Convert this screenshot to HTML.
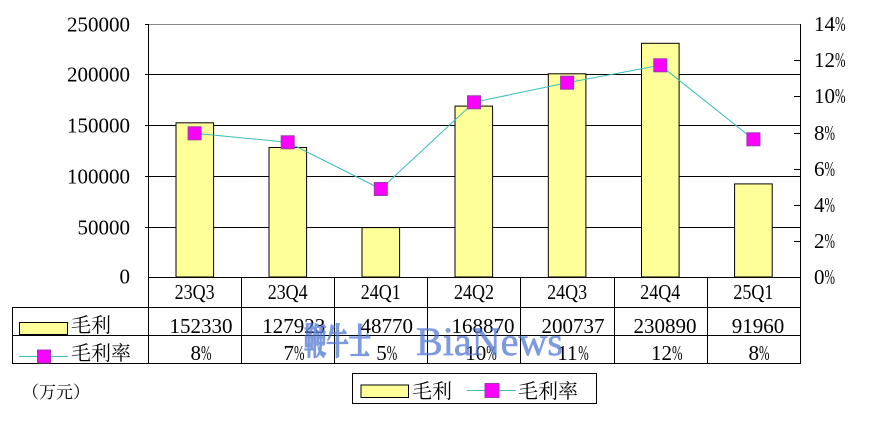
<!DOCTYPE html>
<html><head><meta charset="utf-8"><style>
html,body{margin:0;padding:0;background:#fff;}
svg{display:block;}
.n{font-family:"Liberation Serif",serif;font-size:21px;fill:#000;}
.c{font-family:"Liberation Serif","Noto Serif CJK SC",serif;font-size:20px;fill:#000;}
</style></head><body>
<svg width="870" height="428" viewBox="0 0 870 428" xmlns="http://www.w3.org/2000/svg">
<rect width="870" height="428" fill="#fff"/>
<!-- gridlines -->
<line x1="148" y1="24.5" x2="800" y2="24.5" stroke="#888" stroke-width="1"/>
<g stroke="#000" stroke-width="1">
<line x1="145" y1="74.5" x2="800" y2="74.5"/>
<line x1="145" y1="125.5" x2="800" y2="125.5"/>
<line x1="145" y1="176.5" x2="800" y2="176.5"/>
<line x1="145" y1="227.5" x2="800" y2="227.5"/>
<line x1="145" y1="24.5" x2="148" y2="24.5"/>
</g>
<!-- bars -->
<g fill="#FFFF99" stroke="#000" stroke-width="1">
<rect x="176" y="122.8" width="37.6" height="154.2"/>
<rect x="269" y="147.5" width="37.6" height="129.5"/>
<rect x="362" y="227.6" width="37.6" height="49.4"/>
<rect x="455" y="106.1" width="37.6" height="170.9"/>
<rect x="548.3" y="73.8" width="37.6" height="203.2"/>
<rect x="641.5" y="43.3" width="37.6" height="233.7"/>
<rect x="734.6" y="183.9" width="37.6" height="93.1"/>
</g>
<!-- axes & table lines -->
<g stroke="#000" stroke-width="1">
<line x1="148.5" y1="24" x2="148.5" y2="363"/>
<line x1="800.5" y1="24" x2="800.5" y2="363"/>
<line x1="148" y1="277.5" x2="801" y2="277.5"/>
<line x1="12" y1="307.5" x2="801" y2="307.5"/>
<line x1="12" y1="335.5" x2="801" y2="335.5"/>
<line x1="12" y1="363.5" x2="801" y2="363.5"/>
<line x1="12.5" y1="307" x2="12.5" y2="364"/>
<line x1="241.5" y1="277" x2="241.5" y2="363"/>
<line x1="334.5" y1="277" x2="334.5" y2="363"/>
<line x1="427.5" y1="277" x2="427.5" y2="363"/>
<line x1="520.5" y1="277" x2="520.5" y2="363"/>
<line x1="614.5" y1="277" x2="614.5" y2="363"/>
<line x1="707.5" y1="277" x2="707.5" y2="363"/>
<!-- right ticks -->
<line x1="794" y1="60.5" x2="800" y2="60.5"/>
<line x1="794" y1="96.5" x2="800" y2="96.5"/>
<line x1="794" y1="133.5" x2="800" y2="133.5"/>
<line x1="794" y1="169.5" x2="800" y2="169.5"/>
<line x1="794" y1="205.5" x2="800" y2="205.5"/>
<line x1="794" y1="241.5" x2="800" y2="241.5"/>
</g>
<!-- line series -->
<polyline fill="none" stroke="#3cbcbc" stroke-width="1" points="194.6,133.3 287.7,142.3 380.8,189 474,102.3 567.1,82.7 660.3,65.3 753.4,139.3"/>
<g fill="#FF00FF" stroke="#9a3aa8" stroke-width="1">
<rect x="188.1" y="126.8" width="13" height="13"/>
<rect x="281.2" y="135.8" width="13" height="13"/>
<rect x="374.3" y="182.5" width="13" height="13"/>
<rect x="467.5" y="95.8" width="13" height="13"/>
<rect x="560.6" y="76.2" width="13" height="13"/>
<rect x="653.8" y="58.8" width="13" height="13"/>
<rect x="746.9" y="132.8" width="13" height="13"/>
</g>
<!-- left axis labels -->
<g class="n" text-anchor="end">
<text x="130" y="31.5">250000</text>
<text x="130" y="81.5">200000</text>
<text x="130" y="132.5">150000</text>
<text x="130" y="183.5">100000</text>
<text x="130" y="234.5">50000</text>
<text x="130" y="283.5">0</text>
</g>
<!-- right axis labels -->
<g class="n">
<text x="814" y="31">14</text><text x="835" y="31" textLength="10.5" lengthAdjust="spacingAndGlyphs">%</text>
<text x="814" y="67">12</text><text x="835" y="67" textLength="10.5" lengthAdjust="spacingAndGlyphs">%</text>
<text x="814" y="103">10</text><text x="835" y="103" textLength="10.5" lengthAdjust="spacingAndGlyphs">%</text>
<text x="814" y="140">8</text><text x="824.5" y="140" textLength="10.5" lengthAdjust="spacingAndGlyphs">%</text>
<text x="814" y="176">6</text><text x="824.5" y="176" textLength="10.5" lengthAdjust="spacingAndGlyphs">%</text>
<text x="814" y="212">4</text><text x="824.5" y="212" textLength="10.5" lengthAdjust="spacingAndGlyphs">%</text>
<text x="814" y="248">2</text><text x="824.5" y="248" textLength="10.5" lengthAdjust="spacingAndGlyphs">%</text>
<text x="814" y="284">0</text><text x="824.5" y="284" textLength="10.5" lengthAdjust="spacingAndGlyphs">%</text>
</g>
<!-- category row -->
<g class="n" text-anchor="middle">
<text x="194.6" y="299" textLength="40" lengthAdjust="spacingAndGlyphs">23Q3</text>
<text x="287.7" y="299" textLength="40" lengthAdjust="spacingAndGlyphs">23Q4</text>
<text x="380.8" y="299" textLength="40" lengthAdjust="spacingAndGlyphs">24Q1</text>
<text x="474" y="299" textLength="40" lengthAdjust="spacingAndGlyphs">24Q2</text>
<text x="567.1" y="299" textLength="40" lengthAdjust="spacingAndGlyphs">24Q3</text>
<text x="660.3" y="299" textLength="40" lengthAdjust="spacingAndGlyphs">24Q4</text>
<text x="753.4" y="299" textLength="40" lengthAdjust="spacingAndGlyphs">25Q1</text>
</g>
<!-- values row -->
<g class="n" text-anchor="middle">
<text x="201" y="333">152330</text>
<text x="293.7" y="333">127923</text>
<text x="386.8" y="333">48770</text>
<text x="483" y="333">168870</text>
<text x="573" y="333">200737</text>
<text x="665" y="333">230890</text>
<text x="758" y="333">91960</text>
</g>
<!-- rate row -->
<g class="n">
<text x="190.5" y="360">8</text><text x="201" y="360" textLength="10.5" lengthAdjust="spacingAndGlyphs">%</text>
<text x="283.5" y="360">7</text><text x="294" y="360" textLength="10.5" lengthAdjust="spacingAndGlyphs">%</text>
<text x="376.2" y="360">5</text><text x="386.7" y="360" textLength="10.5" lengthAdjust="spacingAndGlyphs">%</text>
<text x="465.3" y="360">10</text><text x="486.3" y="360" textLength="10.5" lengthAdjust="spacingAndGlyphs">%</text>
<text x="557.3" y="360">11</text><text x="578.3" y="360" textLength="10.5" lengthAdjust="spacingAndGlyphs">%</text>
<text x="651" y="360">12</text><text x="672" y="360" textLength="10.5" lengthAdjust="spacingAndGlyphs">%</text>
<text x="748.5" y="360">8</text><text x="759" y="360" textLength="10.5" lengthAdjust="spacingAndGlyphs">%</text>
</g>
<!-- table legend keys -->
<rect x="19.5" y="322.5" width="48" height="12" fill="#FFFF99" stroke="#000" stroke-width="1"/>
<line x1="19" y1="335" x2="68" y2="335" stroke="#000" stroke-width="1.5"/>
<text class="c" x="71" y="332">毛利</text>
<line x1="19" y1="356.5" x2="68" y2="356.5" stroke="#3cbcbc" stroke-width="1"/>
<rect x="37.5" y="350" width="13" height="13" fill="#FF00FF" stroke="#9a3aa8" stroke-width="1"/>
<text class="c" x="71" y="360">毛利率</text>
<!-- unit -->
<text x="22" y="398" style="font-family:'Noto Serif CJK SC',serif;font-size:17px;">（万元）</text>
<!-- bottom legend -->
<rect x="352.5" y="373.5" width="244" height="30" fill="#fff" stroke="#000" stroke-width="1"/>
<rect x="361" y="385" width="47.5" height="12.5" fill="#FFFF99" stroke="#000" stroke-width="1"/>
<text class="c" x="412" y="398">毛利</text>
<line x1="467" y1="390.5" x2="516" y2="390.5" stroke="#3cbcbc" stroke-width="1"/>
<rect x="485" y="383.5" width="14" height="14" fill="#FF00FF" stroke="#9a3aa8" stroke-width="1"/>
<text class="c" x="518" y="398">毛利率</text>
<!-- watermark -->
<g opacity="0.72" fill="#4d74d4" stroke="#4d74d4">
<text x="304" y="0" transform="translate(0,354) scale(1,1.55)" stroke-width="0.8" style="font-family:'Noto Serif CJK SC',serif;font-size:23px;font-weight:bold;" textLength="67" lengthAdjust="spacingAndGlyphs">鞭牛士</text>
<text x="416" y="355" stroke-width="0.6" style="font-family:'Liberation Serif',serif;font-size:40px;" textLength="147" lengthAdjust="spacingAndGlyphs">BiaNews</text>
</g>
</svg>
</body></html>
